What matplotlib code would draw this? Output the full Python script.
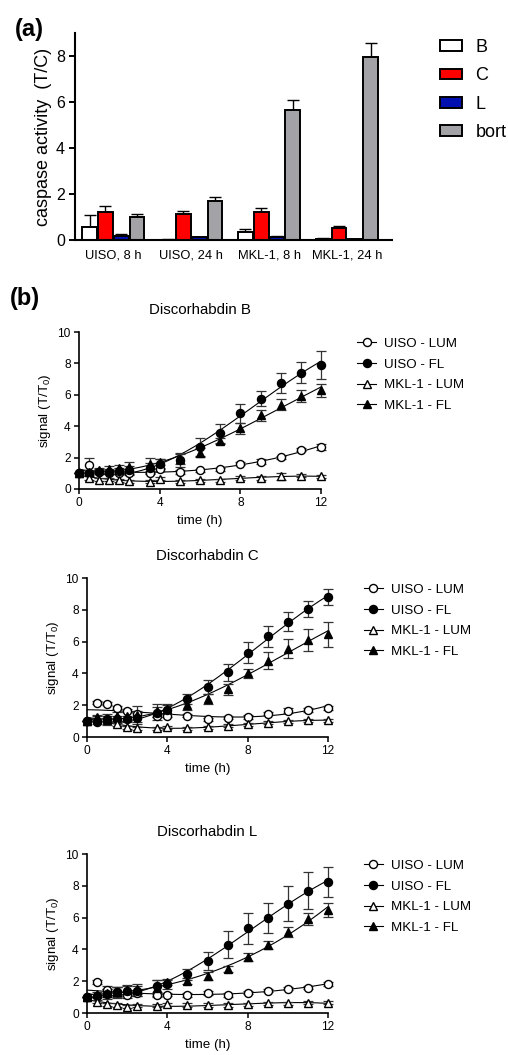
import numpy as np
import matplotlib.pyplot as plt
from matplotlib.lines import Line2D
from matplotlib.patches import Patch

plt.rcParams['font.family'] = ['Liberation Sans', 'DejaVu Sans']
plt.rcParams['mathtext.fontset'] = 'custom'
plt.rcParams['mathtext.rm'] = 'Liberation Sans'

# ---- (a) caspase activity ----
groups = ['UISO, 8 h', 'UISO, 24 h', 'MKL-1, 8 h', 'MKL-1, 24 h']
treatments = ['B', 'C', 'L', 'bort']
casp_B = [0.55, 0.02, 0.33, 0.05]
casp_C = [1.24, 1.13, 1.22, 0.52]
casp_L = [0.18, 0.11, 0.12, 0.04]
casp_bort = [1.00, 1.70, 5.67, 7.97]
casp_B_err = [0.54, 0.01, 0.17, 0.03]
casp_C_err = [0.26, 0.15, 0.19, 0.09]
casp_L_err = [0.08, 0.03, 0.04, 0.01]
casp_bort_err = [0.15, 0.19, 0.42, 0.61]
bar_colors = ['white', '#ff0000', '#0010b0', '#a3a3a7']

# ---- (b) time courses ----
time_h = [0, 0.5, 1, 1.5, 2, 2.5, 3.5, 4, 5, 6, 7, 8, 9, 10, 11, 12]
series_names = ['UISO - LUM', 'UISO - FL', 'MKL-1 - LUM', 'MKL-1 - FL']

# Discorhabdin B
B_uiso_lum = [1.0, 1.53, 1.10, 1.04, 1.04, 1.00, 1.04, 1.25, 1.08, 1.19, 1.25, 1.61, 1.74, 2.01, 2.50, 2.69]
B_uiso_fl = [1.0, 1.00, 1.10, 1.10, 1.15, 1.20, 1.35, 1.60, 1.82, 2.65, 3.56, 4.83, 5.74, 6.74, 7.42, 7.92]
B_mkl_lum = [1.0, 0.70, 0.60, 0.60, 0.55, 0.50, 0.45, 0.65, 0.50, 0.55, 0.55, 0.70, 0.70, 0.80, 0.85, 0.80]
B_mkl_fl = [1.0, 1.10, 1.20, 1.30, 1.35, 1.40, 1.60, 1.70, 1.90, 2.31, 3.07, 3.86, 4.70, 5.38, 5.93, 6.29]
B_uiso_lum_err = [0, 0.45, 0.10, 0.10, 0.10, 0.10, 0.10, 0.10, 0.10, 0.10, 0.10, 0.10, 0.15, 0.10, 0.10, 0.20]
B_uiso_fl_err = [0, 0.10, 0.15, 0.15, 0.20, 0.25, 0.30, 0.30, 0.45, 0.57, 0.60, 0.60, 0.48, 0.62, 0.67, 0.90]
B_mkl_lum_err = [0, 0.15, 0.10, 0.10, 0.10, 0.10, 0.10, 0.10, 0.10, 0.10, 0.10, 0.10, 0.10, 0.25, 0.10, 0.10]
B_mkl_fl_err = [0, 0.10, 0.15, 0.15, 0.20, 0.30, 0.35, 0.20, 0.30, 0.30, 0.20, 0.35, 0.35, 0.37, 0.37, 0.40]

# Discorhabdin C
C_uiso_lum = [1.0, 2.17, 2.10, 1.85, 1.66, 1.43, 1.35, 1.35, 1.33, 1.12, 1.22, 1.26, 1.47, 1.66, 1.70, 1.83]
C_uiso_fl = [1.0, 0.93, 1.12, 1.12, 1.12, 1.22, 1.50, 1.73, 2.38, 3.14, 4.06, 5.30, 6.34, 7.24, 8.06, 8.80]
C_mkl_lum = [1.0, 1.25, 1.10, 0.80, 0.60, 0.55, 0.55, 0.60, 0.55, 0.60, 0.72, 0.80, 0.90, 0.98, 1.05, 1.05]
C_mkl_fl = [1.0, 1.20, 1.12, 1.30, 1.30, 1.40, 1.65, 1.75, 2.00, 2.38, 3.01, 4.00, 4.80, 5.54, 6.10, 6.46]
C_uiso_lum_err = [0, 0.10, 0.10, 0.10, 0.10, 0.20, 0.10, 0.10, 0.10, 0.10, 0.10, 0.10, 0.10, 0.15, 0.10, 0.10]
C_uiso_fl_err = [0, 0.10, 0.20, 0.20, 0.20, 0.30, 0.40, 0.30, 0.30, 0.45, 0.55, 0.65, 0.65, 0.60, 0.50, 0.50]
C_mkl_lum_err = [0, 0.10, 0.10, 0.10, 0.10, 0.10, 0.10, 0.10, 0.10, 0.10, 0.10, 0.10, 0.10, 0.10, 0.10, 0.10]
C_mkl_fl_err = [0, 0.20, 0.35, 0.30, 0.30, 0.55, 0.40, 0.30, 0.30, 0.30, 0.35, 0.30, 0.55, 0.60, 0.70, 0.80]

# Discorhabdin L
L_uiso_lum = [1.0, 1.95, 1.43, 1.32, 1.15, 1.26, 1.11, 1.15, 1.13, 1.26, 1.13, 1.28, 1.40, 1.53, 1.59, 1.84]
L_uiso_fl = [1.0, 1.10, 1.20, 1.30, 1.40, 1.40, 1.70, 1.80, 2.43, 3.27, 4.28, 5.32, 5.97, 6.86, 7.69, 8.26]
L_mkl_lum = [1.0, 0.70, 0.55, 0.50, 0.40, 0.45, 0.45, 0.55, 0.50, 0.50, 0.50, 0.55, 0.60, 0.60, 0.65, 0.65]
L_mkl_fl = [1.0, 1.20, 1.25, 1.35, 1.45, 1.50, 1.60, 1.95, 2.00, 2.30, 2.77, 3.50, 4.30, 5.09, 5.91, 6.48]
L_uiso_lum_err = [0, 0.10, 0.30, 0.30, 0.20, 0.20, 0.10, 0.10, 0.10, 0.10, 0.10, 0.10, 0.10, 0.10, 0.10, 0.12]
L_uiso_fl_err = [0, 0.10, 0.30, 0.35, 0.30, 0.30, 0.40, 0.30, 0.35, 0.55, 0.85, 0.95, 0.95, 1.10, 1.15, 0.95]
L_mkl_lum_err = [0, 0.10, 0.10, 0.10, 0.10, 0.10, 0.10, 0.10, 0.10, 0.10, 0.10, 0.10, 0.10, 0.10, 0.10, 0.10]
L_mkl_fl_err = [0, 0.15, 0.25, 0.30, 0.30, 0.30, 0.50, 0.20, 0.20, 0.25, 0.20, 0.25, 0.25, 0.30, 0.40, 0.45]

fig = plt.figure(figsize=(5.08, 10.55), dpi=100)

# ---------------- panel (a) ----------------
ax = fig.add_axes([0.148, 0.7725, 0.624, 0.196])
x = np.arange(len(groups))
w = 0.19
step = 0.203
means = [casp_B, casp_C, casp_L, casp_bort]
errs = [casp_B_err, casp_C_err, casp_L_err, casp_bort_err]
handles = []
for i, (m, e, c, name) in enumerate(zip(means, errs, bar_colors, treatments)):
    pos = x + (i - 1.5) * step
    ax.errorbar(pos, m, yerr=[np.zeros(len(e)), e], fmt='none', ecolor='black',
                elinewidth=1.0, capsize=4.3, capthick=1.0, zorder=1)
    ax.bar(pos, m, width=w, color=c, edgecolor='black', linewidth=1.4, zorder=2)
    handles.append(Patch(facecolor=c, edgecolor='black', linewidth=1.4, label=name))

ax.set_xlim(-0.49, 3.58)
ax.set_ylim(0, 9)
ax.set_yticks([0, 2, 4, 6, 8])
ax.set_xticks(x)
ax.set_xticklabels(groups, fontsize=9.3)
ax.tick_params(axis='x', length=0, pad=7)
ax.tick_params(axis='y', labelsize=11.5, width=1.4, length=4)
for s in ['top', 'right']:
    ax.spines[s].set_visible(False)
for s in ['left', 'bottom']:
    ax.spines[s].set_linewidth(1.5)
ax.set_ylabel('caspase activity  (T/C)', fontsize=13, labelpad=3)
ax.legend(handles=handles, loc='upper left', bbox_to_anchor=(1.1, 1.05),
          frameon=False, fontsize=13, handlelength=1.2, handleheight=0.55,
          labelspacing=0.62, handletextpad=0.75)

fig.text(0.03, 0.972, '(a)', fontsize=17, fontweight='bold', va='center')
fig.text(0.02, 0.717, '(b)', fontsize=17, fontweight='bold', va='center')

# ---------------- panel (b) ----------------
panels = [
    ('Discorhabdin B', [0.1555, 0.5365, 0.4765, 0.1488],
     [B_uiso_lum, B_uiso_fl, B_mkl_lum, B_mkl_fl],
     [B_uiso_lum_err, B_uiso_fl_err, B_mkl_lum_err, B_mkl_fl_err]),
    ('Discorhabdin C', [0.1713, 0.3014, 0.4744, 0.1507],
     [C_uiso_lum, C_uiso_fl, C_mkl_lum, C_mkl_fl],
     [C_uiso_lum_err, C_uiso_fl_err, C_mkl_lum_err, C_mkl_fl_err]),
    ('Discorhabdin L', [0.1713, 0.0398, 0.4744, 0.1507],
     [L_uiso_lum, L_uiso_fl, L_mkl_lum, L_mkl_fl],
     [L_uiso_lum_err, L_uiso_fl_err, L_mkl_lum_err, L_mkl_fl_err]),
]
markers = ['o', 'o', '^', '^']
faces = ['white', 'black', 'white', 'black']
t = np.array(time_h)
t_fine = np.linspace(0, 12, 200)

for title, rect, ys, es in panels:
    ax = fig.add_axes(rect)
    hs = []
    for y, e, mk, fc, name in zip(ys, es, markers, faces, series_names):
        coef = np.polyfit(t, y, 3)
        ax.plot(t_fine, np.polyval(coef, t_fine), color='black', lw=0.8, zorder=2)
        ax.errorbar(t, y, yerr=e, fmt='none', ecolor='#333333', elinewidth=0.9,
                    capsize=3.5, capthick=0.9, zorder=3, clip_on=False)
        ax.plot(t, y, linestyle='none', marker=mk, markersize=5.8,
                markerfacecolor=fc, markeredgecolor='black', markeredgewidth=1.0,
                zorder=4, clip_on=False)
        hs.append(Line2D([0], [0], color='black', lw=0.8, marker=mk, markersize=5.8,
                         markerfacecolor=fc, markeredgecolor='black',
                         markeredgewidth=1.0, label=name))
    ax.set_xlim(0, 12)
    ax.set_ylim(0, 10)
    ax.set_xticks([0, 4, 8, 12])
    ax.set_yticks([0, 2, 4, 6, 8, 10])
    ax.tick_params(labelsize=8.6, width=1.1, length=3.5, pad=2.5)
    for s in ['top', 'right']:
        ax.spines[s].set_visible(False)
    for s in ['left', 'bottom']:
        ax.spines[s].set_linewidth(1.2)
    ax.set_title(title, fontsize=10.8, pad=13)
    ax.set_xlabel('time (h)', fontsize=9.6, labelpad=4)
    ax.set_ylabel(r'signal (T/T$_\mathregular{0}$)', fontsize=9.6, labelpad=3)
    ax.legend(handles=hs, loc='upper left', bbox_to_anchor=(1.1, 1.04),
              frameon=False, fontsize=9.6, handlelength=1.4, handletextpad=0.6,
              labelspacing=0.62)

fig.savefig('out.png', dpi=100)
